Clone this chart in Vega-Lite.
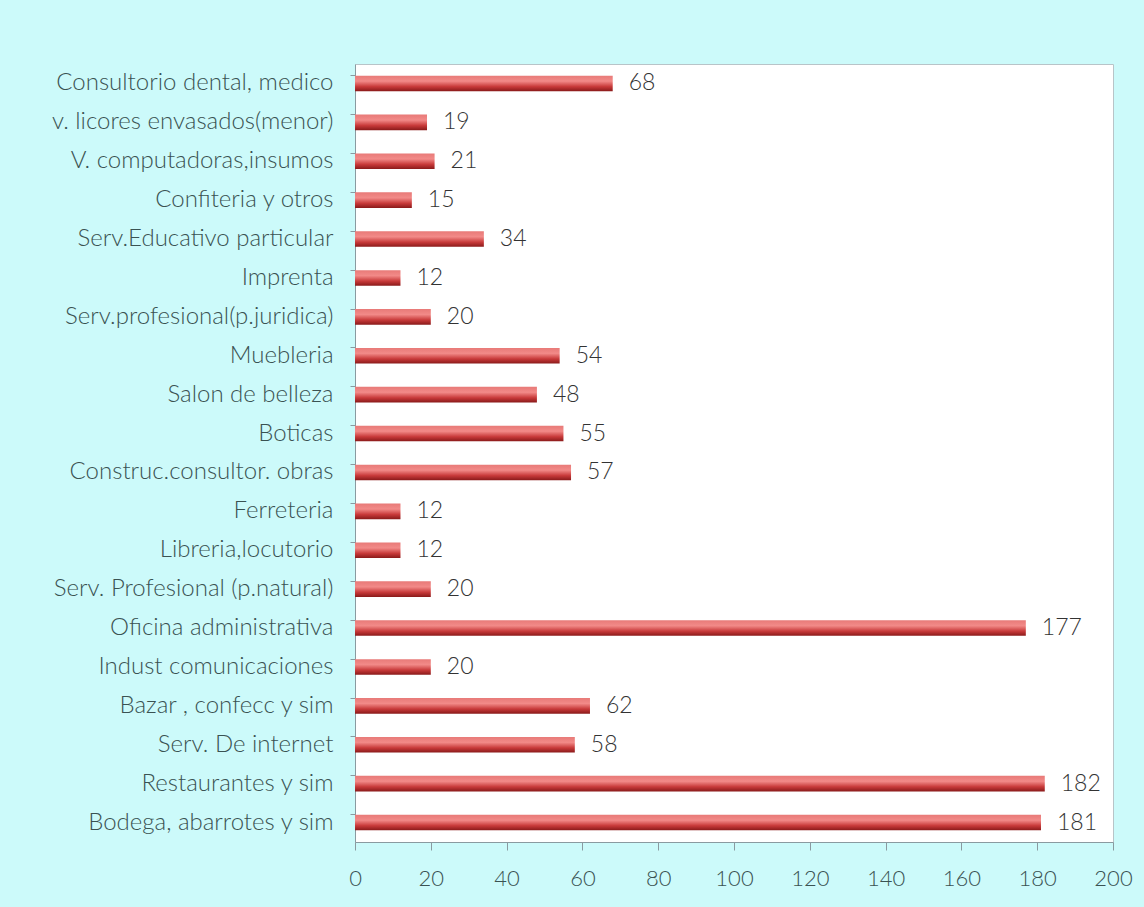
{
  "$schema": "https://vega.github.io/schema/vega-lite/v6.json",
  "autosize": "none",
  "width": 758,
  "height": 778,
  "padding": {"left": 355, "top": 64, "right": 31, "bottom": 65},
  "background": "#ccfafa",
  "config": {
    "view": {"fill": "#ffffff", "stroke": "#b8c4c8", "strokeWidth": 1},
    "font": "Lato"
  },
  "data": {
    "values": [
      {"cat": "Consultorio dental, medico", "n": 68},
      {"cat": "v. licores envasados(menor)", "n": 19},
      {"cat": "V. computadoras,insumos", "n": 21},
      {"cat": "Confiteria y otros", "n": 15},
      {"cat": "Serv.Educativo particular", "n": 34},
      {"cat": "Imprenta", "n": 12},
      {"cat": "Serv.profesional(p.juridica)", "n": 20},
      {"cat": "Muebleria", "n": 54},
      {"cat": "Salon de belleza", "n": 48},
      {"cat": "Boticas", "n": 55},
      {"cat": "Construc.consultor. obras", "n": 57},
      {"cat": "Ferreteria", "n": 12},
      {"cat": "Libreria,locutorio", "n": 12},
      {"cat": "Serv. Profesional (p.natural)", "n": 20},
      {"cat": "Oficina administrativa", "n": 177},
      {"cat": "Indust comunicaciones", "n": 20},
      {"cat": "Bazar , confecc y sim", "n": 62},
      {"cat": "Serv. De internet", "n": 58},
      {"cat": "Restaurantes y sim", "n": 182},
      {"cat": "Bodega, abarrotes y sim", "n": 181}
    ]
  },
  "encoding": {
    "y": {
      "field": "cat", "type": "nominal", "sort": null,
      "scale": {"paddingInner": 0.6, "paddingOuter": 0.3},
      "axis": {
        "title": null, "bandPosition": 0, "tickSize": 5, "tickColor": "#8a9aa0",
        "domainColor": "#8a9aa0", "labelPadding": 17, "labelFontSize": 24,
        "labelColor": "#3a5252", "labelFont": "Lato", "labelFontWeight": 300, "labelLimit": 400
      }
    },
    "x": {
      "field": "n", "type": "quantitative",
      "scale": {"domain": [0, 200], "nice": false},
      "axis": {
        "title": null, "values": [0, 20, 40, 60, 80, 100, 120, 140, 160, 180, 200],
        "grid": false, "tickSize": 8, "tickColor": "#8a9aa0", "domainColor": "#8a9aa0",
        "labelFlush": false, "labelPadding": 18, "labelFontSize": 22,
        "labelColor": "#3a5252", "labelFont": "Lato", "labelFontWeight": 300
      }
    }
  },
  "layer": [
    {
      "mark": {
        "type": "bar",
        "color": {
          "gradient": "linear", "x1": 0, "y1": 0, "x2": 0, "y2": 1,
          "stops": [
            {"offset": 0, "color": "#e87a78"},
            {"offset": 0.35, "color": "#f28a88"},
            {"offset": 0.7, "color": "#c83a3a"},
            {"offset": 1, "color": "#8a1a1a"}
          ]
        }
      }
    },
    {
      "mark": {"type": "text", "align": "left", "dx": 16, "fontSize": 23, "color": "#333333", "font": "Lato", "fontWeight": 300},
      "encoding": {"text": {"field": "n", "type": "quantitative"}}
    }
  ]
}
